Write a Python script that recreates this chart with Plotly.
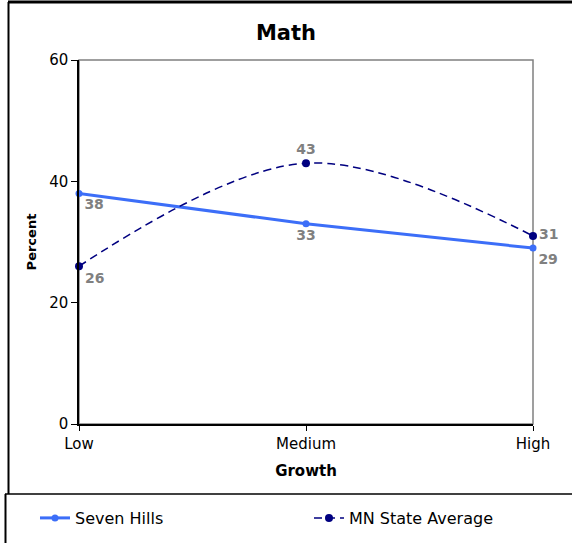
import plotly.graph_objects as go

categories = ["Low", "Medium", "High"]
seven_hills = [38, 33, 29]
mn_state = [26, 43, 31]
seven_pos = ["bottom right", "bottom center", "bottom right"]
mn_pos = ["bottom right", "top center", "middle right"]
y_ticks = [0, 20, 40, 60]

W, H = 572, 543
L, R, T, B = 79, 39, 60, 119
pw, ph = W - L - R, H - T - B
FONT = "DejaVu Sans"

def px(x):
    return (x - L) / pw

def py(y):
    return (H - B - y) / ph

label_font = dict(family=FONT, size=14, color="#808080", weight="bold")

fig = go.Figure()
fig.add_trace(go.Scatter(
    x=categories, y=seven_hills, name="Seven Hills", mode="lines+markers+text",
    line=dict(color="#3C6EF8", width=3), marker=dict(color="#3C6EF8", size=7),
    text=[str(v) for v in seven_hills], textposition=seven_pos,
    textfont=label_font, cliponaxis=False, legend="legend",
))
fig.add_trace(go.Scatter(
    x=categories, y=mn_state, name="MN State Average", mode="lines+markers+text",
    line=dict(color="#000080", width=1.5, dash="8px,5px", shape="spline", smoothing=1),
    marker=dict(color="#000080", size=8),
    text=[str(v) for v in mn_state], textposition=mn_pos,
    textfont=label_font, cliponaxis=False, legend="legend2",
))

shapes = [
    # plot border (gray)
    dict(type="rect", xref="paper", yref="paper", x0=0, x1=1, y0=0, y1=1,
         line=dict(color="#808080", width=1.5), layer="below"),
    # outer frame
    dict(type="line", xref="paper", yref="paper", x0=px(8), x1=px(572), y0=py(2), y1=py(2),
         line=dict(color="black", width=3)),
    dict(type="line", xref="paper", yref="paper", x0=px(8.5), x1=px(8.5), y0=py(2), y1=py(494),
         line=dict(color="black", width=2)),
    dict(type="line", xref="paper", yref="paper", x0=px(5), x1=px(572), y0=py(494), y1=py(494),
         line=dict(color="black", width=1.5)),
    dict(type="line", xref="paper", yref="paper", x0=px(5.5), x1=px(5.5), y0=py(494), y1=py(543),
         line=dict(color="black", width=2)),
]

legend_common = dict(orientation="h", xanchor="left", y=py(518), yanchor="middle",
                     font=dict(family=FONT, size=16), bgcolor="rgba(0,0,0,0)")

fig.update_layout(
    width=W, height=H,
    margin=dict(l=L, r=R, t=T, b=B, autoexpand=False),
    paper_bgcolor="white", plot_bgcolor="white",
    font=dict(family=FONT, size=15, color="black"),
    title=dict(text="<b>Math</b>", x=px(306), xanchor="center", y=1 - 33 / H, yanchor="middle",
               font=dict(family=FONT, size=21, color="black")),
    showlegend=True,
    legend=dict(x=px(35), **legend_common),
    legend2=dict(x=px(309), **legend_common),
    shapes=shapes,
)
fig.update_xaxes(
    range=[0, 2], showline=True, linecolor="black", linewidth=1.5,
    ticks="outside", ticklen=5, tickcolor="black", showgrid=False, zeroline=False,
    title=dict(text="<b>Growth</b>", standoff=14, font=dict(family=FONT, size=15)),
    tickfont=dict(family=FONT, size=15),
)
fig.update_yaxes(
    range=[0, 60], tickvals=y_ticks, showline=True, linecolor="black", linewidth=1.5,
    ticks="outside", ticklen=6, tickcolor="black", showgrid=False, zeroline=False,
    title=dict(text="<b>Percent</b>", standoff=10, font=dict(family=FONT, size=13)),
    tickfont=dict(family=FONT, size=15),
)

fig.write_html("out.html", config={"displayModeBar": False},
               post_script="document.body.style.margin='0';")
